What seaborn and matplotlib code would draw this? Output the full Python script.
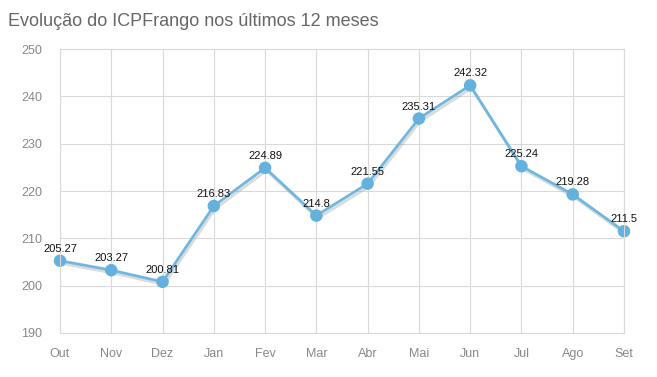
import matplotlib
matplotlib.use("Agg")
import pandas as pd
from matplotlib import pyplot as plt
import matplotlib.patheffects as pe
import seaborn as sns

months = ['Out', 'Nov', 'Dez', 'Jan', 'Fev', 'Mar', 'Abr', 'Mai', 'Jun', 'Jul', 'Ago', 'Set']
icp = [205.27, 203.27, 200.81, 216.83, 224.89, 214.8, 221.55, 235.31, 242.32, 225.24, 219.28, 211.5]
labels = ['205.27', '203.27', '200.81', '216.83', '224.89', '214.8', '221.55', '235.31', '242.32', '225.24', '219.28', '211.5']
yticks = [190, 200, 210, 220, 230, 240, 250]

df = pd.DataFrame({'pos': range(len(months)), 'ICP': icp})

sns.set_style('white')
plt.rcParams['font.family'] = ['Liberation Sans', 'DejaVu Sans']

fig = plt.figure(figsize=(6.57, 3.77), dpi=100)
ax = fig.add_axes([60 / 657, 1 - 333 / 377, 564 / 657, 284 / 377])

line_color = '#6fb7df'
sns.lineplot(x='pos', y='ICP', data=df, ax=ax, color=line_color, linewidth=2,
             marker='o', markersize=9, markeredgewidth=0, markerfacecolor='#63b1dc',
             clip_on=False,
             path_effects=[pe.SimpleLineShadow(offset=(1, -2), shadow_color='#999999', alpha=0.35),
                           pe.Normal()])

for x, y, t in zip(df['pos'], icp, labels):
    ax.annotate(t, (x, y), xytext=(0, 5), textcoords='offset points',
                ha='center', va='bottom', fontsize=8, color='#111111')

ax.set_xlim(0, len(months) - 1)
ax.set_ylim(190, 250)
ax.set_xticks(range(len(months)))
ax.set_xticklabels(months)
ax.set_yticks(yticks)
ax.tick_params(axis='both', length=0, labelsize=9, labelcolor='#888888')
ax.tick_params(axis='x', pad=11)
ax.tick_params(axis='y', pad=13)
ax.grid(True, color='#d9d9d9', linewidth=0.8)
for s in ax.spines.values():
    s.set_color('#d9d9d9')
    s.set_linewidth(0.8)
ax.set_xlabel('')
ax.set_ylabel('')

fig.text(8 / 657, 1 - 21 / 377, 'Evolução do ICPFrango nos últimos 12 meses',
         fontsize=13, color='#666666', va='center', ha='left')

fig.savefig('out.png', dpi=100)
